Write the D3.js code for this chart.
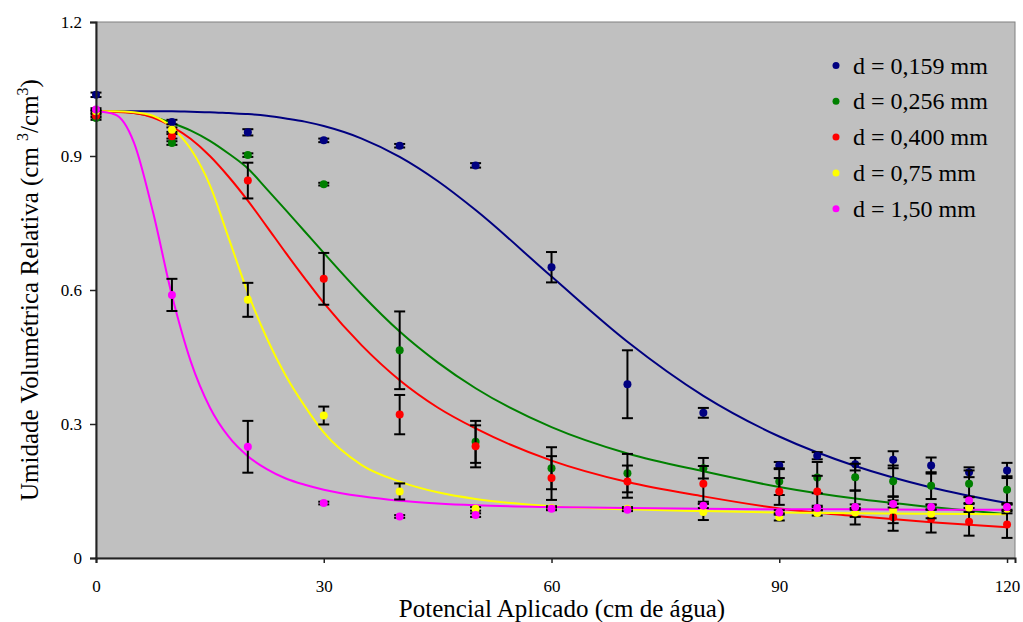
<!DOCTYPE html>
<html>
<head>
<meta charset="utf-8">
<script src="https://cdn.jsdelivr.net/npm/d3@7"></script>
<style>
  body { margin: 0; background: #fff; }
  text { font-family: "Liberation Serif", "Times New Roman", serif; fill: #000; }
</style>
</head>
<body>
<svg id="chart" width="1023" height="622"></svg>
<script>
// Potencial aplicado (cm de água) nos pontos medidos
var potencial = [0, 10, 20, 30, 40, 50, 60, 70, 80, 90, 95, 100, 105, 110, 115, 120];

// Umidade relativa medida e desvio, por diâmetro
var d159 = [1.037, 0.976, 0.953, 0.935, 0.923, 0.879, 0.651, 0.389, 0.325, 0.207, 0.229, 0.210, 0.220, 0.207, 0.192, 0.196];
var d159Erro = [0.005, 0.005, 0.007, 0.004, 0.004, 0.005, 0.034, 0.076, 0.011, 0.008, 0.008, 0.014, 0.019, 0.018, 0.011, 0.017];
var d256 = [0.985, 0.929, 0.902, 0.837, 0.465, 0.260, 0.201, 0.190, 0.201, 0.171, 0.180, 0.181, 0.172, 0.162, 0.166, 0.153];
var d256Erro = [0.004, 0.004, 0.004, 0.003, 0.087, 0.047, 0.047, 0.043, 0.023, 0.030, 0.035, 0.030, 0.035, 0.030, 0.030, 0.030];
var d400 = [0.990, 0.944, 0.845, 0.625, 0.321, 0.250, 0.179, 0.171, 0.166, 0.149, 0.149, 0.113, 0.091, 0.088, 0.081, 0.075];
var d400Erro = [0.004, 0.005, 0.040, 0.058, 0.044, 0.047, 0.049, 0.036, 0.040, 0.030, 0.035, 0.038, 0.030, 0.031, 0.031, 0.030];
var d075 = [1.000, 0.959, 0.578, 0.319, 0.149, 0.110, 0.112, 0.110, 0.103, 0.092, 0.101, 0.102, 0.108, 0.099, 0.113, 0.110];
var d075Erro = [0.003, 0.005, 0.038, 0.020, 0.018, 0.004, 0.004, 0.004, 0.018, 0.008, 0.006, 0.010, 0.030, 0.010, 0.010, 0.010];
var d150 = [1.004, 0.589, 0.249, 0.123, 0.093, 0.096, 0.110, 0.108, 0.117, 0.102, 0.112, 0.114, 0.121, 0.114, 0.129, 0.114];
var d150Erro = [0.003, 0.036, 0.058, 0.003, 0.003, 0.004, 0.003, 0.003, 0.005, 0.005, 0.005, 0.006, 0.008, 0.006, 0.008, 0.006];

// Curvas ajustadas (valores lidos ao longo de cada curva)
var ajusteX = [0, 2.5, 5, 7.5, 10, 12.5, 15, 17.5, 20, 22.5, 25, 27.5, 30, 35, 40, 45, 50, 60, 70, 80, 90, 100, 110, 120];
var ajuste159 = [1.000, 1.000, 1.000, 1.000, 1.000, 0.999, 0.998, 0.996, 0.994, 0.990, 0.984, 0.977, 0.967, 0.939, 0.898, 0.844, 0.779, 0.630, 0.484, 0.363, 0.272, 0.206, 0.158, 0.123];
var ajuste256 = [1.000, 1.000, 0.996, 0.988, 0.974, 0.957, 0.934, 0.905, 0.872, 0.826, 0.779, 0.731, 0.683, 0.590, 0.507, 0.438, 0.380, 0.293, 0.234, 0.194, 0.159, 0.133, 0.114, 0.098];
var ajuste400 = [1.000, 0.999, 0.996, 0.986, 0.966, 0.938, 0.900, 0.853, 0.800, 0.742, 0.683, 0.626, 0.571, 0.476, 0.398, 0.337, 0.290, 0.218, 0.170, 0.138, 0.111, 0.094, 0.080, 0.069];
var ajuste075 = [1.000, 1.000, 0.998, 0.990, 0.964, 0.915, 0.835, 0.715, 0.594, 0.492, 0.408, 0.340, 0.281, 0.208, 0.171, 0.147, 0.132, 0.116, 0.109, 0.105, 0.102, 0.100, 0.099, 0.098];
var ajuste150 = [1.000, 0.993, 0.930, 0.775, 0.588, 0.439, 0.337, 0.271, 0.228, 0.199, 0.178, 0.164, 0.153, 0.138, 0.128, 0.122, 0.118, 0.114, 0.112, 0.110, 0.109, 0.109, 0.108, 0.108];

var rotulos = ["d = 0,159 mm", "d = 0,256 mm", "d = 0,400 mm", "d = 0,75 mm", "d = 1,50 mm"];
var cores = ["#000080", "#008000", "#ff0000", "#ffff00", "#ff00ff"];
var yTicks = [0, 0.3, 0.6, 0.9, 1.2];
var xTicks = [0, 30, 60, 90, 120];

var series = [
  { nome: rotulos[0], cor: cores[0], y: d159, erro: d159Erro, ajuste: ajuste159 },
  { nome: rotulos[1], cor: cores[1], y: d256, erro: d256Erro, ajuste: ajuste256 },
  { nome: rotulos[2], cor: cores[2], y: d400, erro: d400Erro, ajuste: ajuste400 },
  { nome: rotulos[3], cor: cores[3], y: d075, erro: d075Erro, ajuste: ajuste075 },
  { nome: rotulos[4], cor: cores[4], y: d150, erro: d150Erro, ajuste: ajuste150 }
];

var svg = d3.select("#chart");
var pLeft = 96, pTop = 22, pRight = 1015, pBottom = 558;

var x = d3.scaleLinear().domain([0, 121.05]).range([pLeft, pRight]);
var y = d3.scaleLinear().domain([0, 1.2]).range([pBottom, pTop]);

// fundo cinza da área de plotagem
svg.append("rect")
  .attr("x", pLeft).attr("y", pTop)
  .attr("width", pRight - pLeft).attr("height", pBottom - pTop)
  .attr("fill", "#c0c0c0")
  .attr("stroke", "#808080")
  .attr("stroke-width", 1);

// curvas ajustadas
var linha = d3.line()
  .x(function(d) { return x(d[0]); })
  .y(function(d) { return y(d[1]); })
  .curve(d3.curveMonotoneX);

series.forEach(function(s) {
  svg.append("path")
    .datum(ajusteX.map(function(v, i) { return [v, s.ajuste[i]]; }))
    .attr("d", linha)
    .attr("fill", "none")
    .attr("stroke", s.cor)
    .attr("stroke-width", 2);
});

// barras de erro e pontos
series.forEach(function(s) {
  var g = svg.append("g");
  var pts = potencial.map(function(p, i) { return { x: p, y: s.y[i], e: s.erro[i] }; });

  var barras = g.selectAll("g.erro").data(pts).enter().append("g").attr("class", "erro")
    .attr("stroke", "#000").attr("stroke-width", 2);
  barras.append("line")
    .attr("x1", function(d) { return x(d.x); }).attr("x2", function(d) { return x(d.x); })
    .attr("y1", function(d) { return y(d.y + d.e); }).attr("y2", function(d) { return y(d.y - d.e); });
  barras.append("line")
    .attr("x1", function(d) { return x(d.x) - 5.5; }).attr("x2", function(d) { return x(d.x) + 5.5; })
    .attr("y1", function(d) { return y(d.y + d.e); }).attr("y2", function(d) { return y(d.y + d.e); });
  barras.append("line")
    .attr("x1", function(d) { return x(d.x) - 5.5; }).attr("x2", function(d) { return x(d.x) + 5.5; })
    .attr("y1", function(d) { return y(d.y - d.e); }).attr("y2", function(d) { return y(d.y - d.e); });

  g.selectAll("circle").data(pts).enter().append("circle")
    .attr("cx", function(d) { return x(d.x); })
    .attr("cy", function(d) { return y(d.y); })
    .attr("r", 4)
    .attr("fill", s.cor);
});

// eixos
var eixoY = d3.axisLeft(y).tickValues(yTicks).tickSize(6).tickPadding(8)
  .tickFormat(function(d) { return d === 0 ? "0" : d3.format(".1f")(d); });
var eixoX = d3.axisBottom(x).tickValues(xTicks).tickSize(5).tickPadding(17)
  .tickFormat(d3.format("d"));

var gy = svg.append("g").attr("transform", "translate(" + pLeft + ",0)").call(eixoY);
var gx = svg.append("g").attr("transform", "translate(0," + pBottom + ")").call(eixoX);
[gy, gx].forEach(function(g) {
  g.attr("font-family", "Liberation Serif").attr("font-size", 17);
  g.select(".domain").attr("stroke", "#222").attr("stroke-width", 2);
  g.selectAll(".tick line").attr("stroke", "#222").attr("stroke-width", 1.5);
  g.selectAll(".tick text").attr("fill", "#000");
});

// títulos dos eixos
svg.append("text")
  .attr("x", 562).attr("y", 617)
  .attr("text-anchor", "middle")
  .style("font-size", "25px")
  .text("Potencial Aplicado (cm de água)");

var ty = svg.append("text")
  .attr("transform", "translate(38,290) rotate(-90)")
  .attr("text-anchor", "middle")
  .style("font-size", "25px");
ty.append("tspan").text("Umidade Volumétrica Relativa (cm ");
ty.append("tspan").attr("dy", -10).style("font-size", "16px").text("3");
ty.append("tspan").attr("dy", 10).text("/cm");
ty.append("tspan").attr("dy", -10).style("font-size", "16px").text("3");
ty.append("tspan").attr("dy", 10).text(")");

// legenda
var leg = svg.append("g").selectAll("g").data(series).enter().append("g")
  .attr("transform", function(d, i) { return "translate(836," + (65.5 + i * 35.8) + ")"; });
leg.append("circle").attr("r", 3.5).attr("fill", function(d) { return d.cor; });
leg.append("text")
  .attr("x", 17).attr("y", 8)
  .style("font-size", "24px")
  .text(function(d) { return d.nome; });
</script>
</body>
</html>
